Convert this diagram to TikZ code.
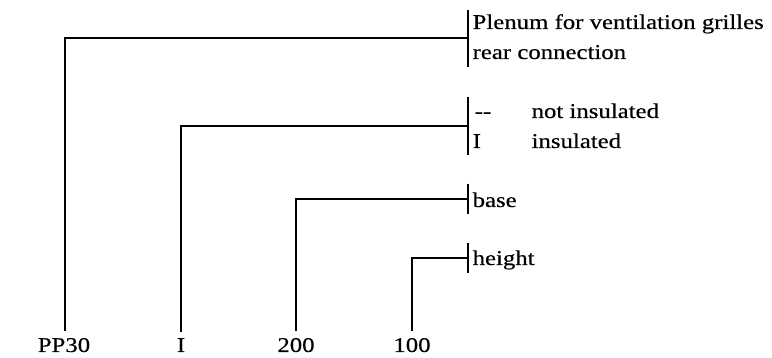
\documentclass[tikz,border=0pt]{standalone}
\usepackage{fontspec}
\setmainfont[FakeStretch=1.18,FakeBold=0.4]{Liberation Serif}
\begin{document}
\begin{tikzpicture}[x=1pt,y=-1pt,
  line width=1.3pt,
  lbl/.style={font=\fontsize{21}{24}\selectfont, inner sep=0pt},
  code/.style={lbl, anchor=base},
  txt/.style={lbl, anchor=base west}]
\useasboundingbox (0,0) rectangle (772,358);
% bottom codes
\node[code] (pp) at (64,352) {PP30};
\node[code] (ins) at (181,352) {I};
\node[code] (base) at (296,352) {200};
\node[code] (hgt) at (412,352) {100};
% bar coordinates
\coordinate (b1) at (468,38);
\coordinate (b2) at (468,126);
\coordinate (b3) at (468,199);
\coordinate (b4) at (468,258);
% bars
\draw (468,10) -- (468,67);
\draw (468,97) -- (468,155);
\draw (468,184) -- (468,214);
\draw (468,243) -- (468,273);
% connectors
\draw ([xshift=1pt,yshift=6pt]pp.north) |- (b1);
\draw ([yshift=6pt]ins.north) |- (b2);
\draw ([yshift=6pt]base.north) |- (b3);
\draw ([yshift=6pt]hgt.north) |- (b4);
% texts
\node[txt] (t1) at (472,29) {Plenum for ventilation grilles};
\node[txt] (t2) at (472,59) {rear connection};
\node[txt] (t3) at (474,118) {\itshape -{}-};
\node[txt] (t4) at (531,118) {not insulated};
\node[txt] (t5) at (472,148) {I};
\node[txt] (t6) at (531,148) {insulated};
\node[txt] (t7) at (472,207) {base};
\node[txt] (t8) at (472,265) {height};
\end{tikzpicture}
\end{document}
